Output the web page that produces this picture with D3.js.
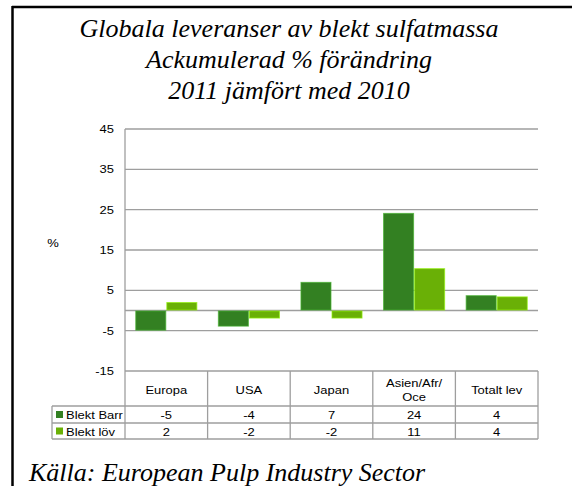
<!DOCTYPE html>
<html>
<head>
  <meta charset="utf-8">
  <title>Globala leveranser av blekt sulfatmassa</title>
  <style>
    body { margin: 0; background: #fff; }
    text { font-family: "Liberation Sans", Arial, sans-serif; fill: #000; }
    text.serif { font-family: "Liberation Serif", "Times New Roman", "DejaVu Serif", serif; font-style: italic; }
  </style>
</head>
<body>
  <svg width="572" height="486"></svg>

  <script src="https://cdnjs.cloudflare.com/ajax/libs/d3/7.8.5/d3.min.js"></script>
  <script type="text/javascript">
    var categories = ['Europa', 'USA', 'Japan', 'Asien/Afr/\nOce', 'Totalt lev']
    var series = ['Blekt Barr', 'Blekt löv']
    var barr = [-5, -4, 7.1, 24.2, 3.8]
    var lov = [2.1, -2, -2, 10.5, 3.5]
    var barrLabels = ['-5', '-4', '7', '24', '4']
    var lovLabels = ['2', '-2', '-2', '11', '4']
    var yTicks = [-15, -5, 5, 15, 25, 35, 45]
    var titleLines = ['Globala leveranser av blekt sulfatmassa', 'Ackumulerad % förändring', '2011 jämfört med 2010']
    var source = 'Källa: European Pulp Industry Sector'

    var colors = ['#338022', '#6ab006']
    var gridColor = '#9e9e9e'

    var svg = d3.select('svg'),
      width = +svg.attr('width'),
      height = +svg.attr('height')

    var plotLeft = 125, plotRight = 538, plotTop = 129, plotBottom = 371
    var rowTops = [371, 406, 423, 439]

    var x0 = d3.scaleBand().domain(d3.range(categories.length)).range([plotLeft, plotRight])
    var x1 = d3.scaleBand().domain(series).range([0, x0.bandwidth()]).paddingOuter(0.33)
    var y = d3.scaleLinear().domain([-15, 45]).range([plotBottom, plotTop])

    // arial text in the original is stretched sideways a bit
    var sx = 1.18
    function label(x, yy, txt, anchor) {
      return svg.append('text')
        .attr('transform', 'translate(' + x + ',' + yy + ') scale(' + sx + ',1)')
        .attr('text-anchor', anchor || 'middle')
        .attr('dy', '0.35em')
        .attr('font-size', 11)
        .text(txt)
    }

    // frame (only top and left edges show)
    svg.append('line').attr('x1', 12).attr('x2', width).attr('y1', 7).attr('y2', 7)
      .attr('stroke', '#000').attr('stroke-width', 2.5)
    svg.append('line').attr('x1', 12.5).attr('x2', 12.5).attr('y1', 6).attr('y2', height)
      .attr('stroke', '#000').attr('stroke-width', 2.5)

    // title
    svg.selectAll('.title').data(titleLines).enter()
      .append('text')
      .attr('class', 'title serif')
      .attr('x', 289)
      .attr('y', (d, i) => 37 + i * 31)
      .attr('text-anchor', 'middle')
      .attr('font-size', 26)
      .text(d => d)

    // gridlines
    svg.selectAll('.grid').data(yTicks.filter(d => d > -15).concat([0])).enter()
      .append('line')
      .attr('class', 'grid')
      .attr('x1', plotLeft).attr('x2', plotRight)
      .attr('y1', d => y(d)).attr('y2', d => y(d))
      .attr('stroke', gridColor).attr('stroke-width', 1.3)

    // y tick labels
    yTicks.forEach(t => label(114, y(t), String(t), 'end'))
    label(53, 243, '%', 'middle')

    // bars, with the faint light edge the original has
    var data = [barr, lov]
    data.forEach(function (vals, s) {
      svg.selectAll('.bar' + s).data(vals).enter()
        .append('rect')
        .attr('class', 'bar' + s)
        .attr('x', (d, i) => x0(i) + x1(series[s]) + 0.5)
        .attr('width', x1.bandwidth() - 1)
        .attr('y', d => y(Math.max(0, d)) + 0.5)
        .attr('height', d => Math.max(0, Math.abs(y(d) - y(0)) - 1))
        .attr('fill', colors[s])
        .attr('stroke', d3.color(colors[s]).brighter(0.9))
        .attr('stroke-opacity', 0.7)
        .attr('stroke-width', 1)
    })

    // y axis line, running down into the table
    svg.append('line').attr('x1', plotLeft).attr('x2', plotLeft).attr('y1', plotTop).attr('y2', rowTops[3])
      .attr('stroke', gridColor).attr('stroke-width', 1.3)

    // data table
    var legendLeft = 52
    svg.append('line').attr('x1', plotLeft).attr('x2', plotRight).attr('y1', rowTops[0]).attr('y2', rowTops[0])
      .attr('stroke', gridColor).attr('stroke-width', 1.3)
    rowTops.slice(1).forEach(function (r) {
      svg.append('line').attr('x1', legendLeft).attr('x2', plotRight).attr('y1', r).attr('y2', r)
        .attr('stroke', gridColor).attr('stroke-width', 1.3)
    })
    d3.range(1, categories.length + 1).forEach(function (i) {
      var xx = i < categories.length ? x0(i) : plotRight
      svg.append('line').attr('x1', xx).attr('x2', xx).attr('y1', rowTops[0]).attr('y2', rowTops[3])
        .attr('stroke', gridColor).attr('stroke-width', 1.3)
    })
    svg.append('line').attr('x1', legendLeft).attr('x2', legendLeft).attr('y1', rowTops[1]).attr('y2', rowTops[3])
      .attr('stroke', gridColor).attr('stroke-width', 1.3)

    categories.forEach(function (c, i) {
      var cx = x0(i) + x0.bandwidth() / 2
      var lines = c.split('\n')
      var mid = (rowTops[0] + rowTops[1]) / 2 + 2
      lines.forEach((ln, j) => label(cx, mid + (j - (lines.length - 1) / 2) * 14, ln))
      label(cx, (rowTops[1] + rowTops[2]) / 2 + 1, barrLabels[i])
      label(cx, (rowTops[2] + rowTops[3]) / 2 + 1, lovLabels[i])
    })

    series.forEach(function (s, k) {
      var cy = (rowTops[k + 1] + rowTops[k + 2]) / 2
      svg.append('rect').attr('x', 56).attr('y', cy - 3.5).attr('width', 7).attr('height', 7)
        .attr('fill', colors[k])
      label(66, cy + 1, s, 'start')
    })

    // source
    svg.append('text')
      .attr('class', 'serif')
      .attr('x', 29)
      .attr('y', 481)
      .attr('font-size', 26)
      .text(source)
  </script>
</body>
</html>
